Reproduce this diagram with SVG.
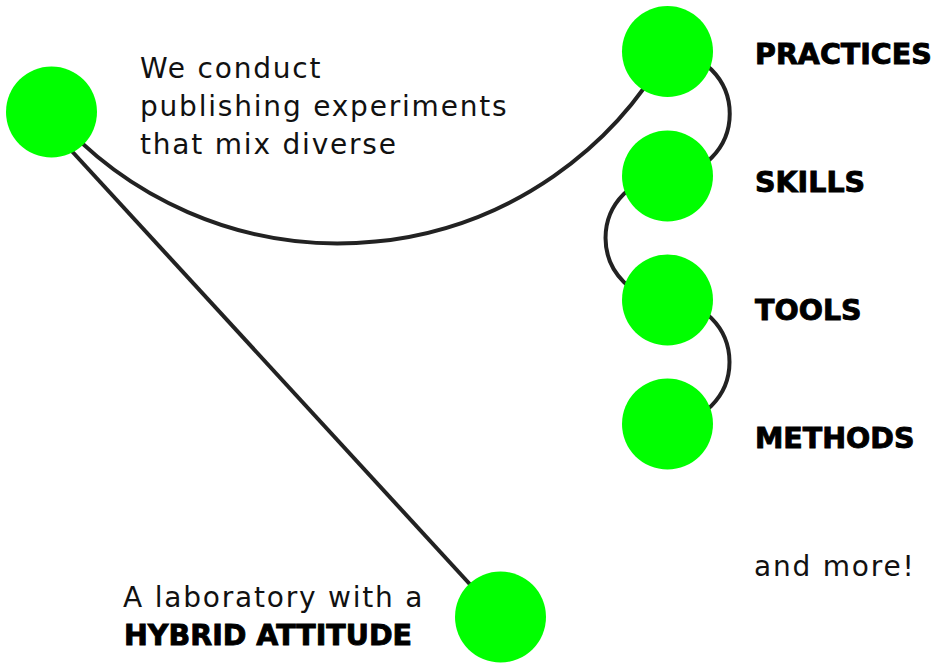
<svg xmlns="http://www.w3.org/2000/svg" width="938" height="663" viewBox="0 0 938 663">
<style>
.node{fill:#00ff00;}
.link{fill:none;stroke:#222;stroke-width:4;}
.t{font-family:"DejaVu Sans","Noto Sans",sans-serif;font-size:28px;letter-spacing:1.8px;fill:#111;}
.b{font-family:"DejaVu Sans","Noto Sans",sans-serif;font-size:28.5px;font-weight:bold;fill:#000;stroke:#000;stroke-width:0.9px;}
</style>
<rect width="938" height="663" fill="#fff"/>
<g id="connectors">
<path class="link" d="M52 112 A378 378 0 0 0 667.5 51.5"/>
<path class="link" d="M57 135 L500 617"/>
<path class="link" d="M667.5 51.5 A62 62 0 0 1 667.5 176"/>
<path class="link" d="M667.5 176 A62 62 0 0 0 667.5 300"/>
<path class="link" d="M667.5 300 A62 62 0 0 1 667.5 424"/>
</g>
<g id="node-intro">
<circle class="node" cx="51.5" cy="112" r="45.5"/>
<text class="t" x="140" y="78">We conduct</text>
<text class="t" x="140" y="116">publishing experiments</text>
<text class="t" x="140" y="154">that mix diverse</text>
</g>
<g id="node-practices">
<circle class="node" cx="667.5" cy="51.5" r="45.5"/>
<text class="b" x="755" y="64">PRACTICES</text>
</g>
<g id="node-skills">
<circle class="node" cx="667.5" cy="176" r="45.5"/>
<text class="b" x="755" y="192">SKILLS</text>
</g>
<g id="node-tools">
<circle class="node" cx="667.5" cy="300" r="45.5"/>
<text class="b" x="755" y="320">TOOLS</text>
</g>
<g id="node-methods">
<circle class="node" cx="667.5" cy="424" r="45.5"/>
<text class="b" x="755" y="448">METHODS</text>
</g>
<g id="node-more">
<text class="t" x="754" y="576">and more!</text>
</g>
<g id="node-lab">
<circle class="node" cx="500.5" cy="617" r="45.5"/>
<text class="t" x="123" y="607">A laboratory with a</text>
<text class="b" x="124" y="645">HYBRID ATTITUDE</text>
</g>
</svg>
